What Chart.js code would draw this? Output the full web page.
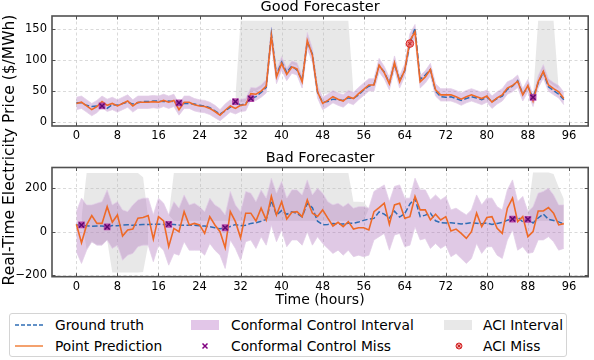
<!DOCTYPE html>
<html>
<head>
<meta charset="utf-8">
<script src="https://cdn.jsdelivr.net/npm/chart.js@4.4.1/dist/chart.umd.min.js"></script>
<style>
  html, body { margin: 0; padding: 0; background: #fff; }
  #fig { position: relative; width: 594px; height: 360px; overflow: hidden; font-family: "DejaVu Sans", sans-serif; color: #000; }
  #fig canvas { position: absolute; left: 0; }
  #ylabel { position: absolute; left: 9px; top: 150px; transform: translate(-50%, -50%) rotate(-90deg); font-size: 15.5px; white-space: nowrap; }
  #legend { position: absolute; left: 9px; top: 313px; width: 558px; height: 44px; border: 1px solid #d4d4d4; border-radius: 3px; box-sizing: border-box; }
  #legend .lbl { position: absolute; font-size: 13.8px; line-height: 16px; white-space: nowrap; transform: translateY(-50%); }
  #legend svg { position: absolute; transform: translateY(-50%); }
</style>
</head>
<body>
<div id="fig">
  <canvas id="good" width="594" height="142" style="top:0px"></canvas>
  <canvas id="bad" width="594" height="170" style="top:142px"></canvas>
  <div id="ylabel">Real-Time Electricity Price ($/MWh)</div>
  <div id="legend">
    <svg style="left:5px;top:11px" width="28" height="10"><line x1="0" y1="5" x2="28" y2="5" stroke="#2f6db5" stroke-width="1.5" stroke-dasharray="4,2"/></svg>
    <div class="lbl" style="left:45px;top:11px">Ground truth</div>
    <svg style="left:5px;top:32px" width="28" height="10"><line x1="0" y1="5" x2="28" y2="5" stroke="#f28a4a" stroke-width="1.6"/></svg>
    <div class="lbl" style="left:45px;top:32px">Point Prediction</div>
    <svg style="left:181px;top:11px" width="28" height="10"><rect x="0" y="0" width="28" height="10" fill="#e2c6e8"/></svg>
    <div class="lbl" style="left:221px;top:11px">Conformal Control Interval</div>
    <svg style="left:181px;top:32px" width="28" height="10"><path d="M11.5 2.5 L16.5 7.5 M16.5 2.5 L11.5 7.5" stroke="#800080" stroke-width="1.5"/></svg>
    <div class="lbl" style="left:221px;top:32px">Conformal Control Miss</div>
    <svg style="left:434px;top:11px" width="28" height="10"><rect x="0" y="0" width="28" height="10" fill="#e8e8e8"/></svg>
    <div class="lbl" style="left:473px;top:11px">ACI Interval</div>
    <svg style="left:434px;top:32px" width="28" height="10"><circle cx="15" cy="5" r="3" fill="#f3a0a0" stroke="#d62728" stroke-width="1"/><path d="M13.3 3.3 L16.7 6.7 M16.7 3.3 L13.3 6.7" stroke="#c01818" stroke-width="0.9"/></svg>
    <div class="lbl" style="left:473px;top:32px">ACI Miss</div>
  </div>
</div>
<script>
// hours 0..95 on the x axis
const hours = Array.from({ length: 96 }, (_, i) => i);
const xTicks = [0, 8, 16, 24, 32, 40, 48, 56, 64, 72, 80, 88, 96];
const goodYTicks = [0, 50, 100, 150];
const badYTicks = [-200, 0, 200];

// ground truth price, shared by both panels
const groundTruth = [
  31, 31, 27, 25, 26, 26, 22, 28, 27, 30, 32, 29,
  31, 33, 33, 34, 34, 33, 34, 33, 31, 30, 30, 29,
  27, 26, 23, 18, 13, 18, 24, 33, 27, 30, 38, 41,
  48, 56, 143, 76, 97, 80, 91, 84, 68, 130, 110, 48,
  32, 33, 37, 36, 35, 39, 38, 44, 52, 58, 61, 91,
  81, 63, 94, 67, 83, 127, 152, 69, 76, 85, 50, 41,
  40, 41, 38, 35, 38, 41, 39, 36, 40, 33, 38, 42,
  53, 58, 67, 45, 57, 40, 63, 81, 57, 51, 45, 36
];

// good forecaster
const goodPred = [
  30, 32, 26, 20, 25, 33, 27, 30, 26, 30, 34, 26,
  32, 32, 32, 33, 32, 35, 32, 35, 20, 32, 32, 28,
  26, 25, 22, 17, 11, 19, 26, 22, 27, 28, 46, 45,
  50, 58, 140, 73, 95, 77, 89, 86, 65, 132, 108, 49,
  30, 35, 41, 37, 34, 41, 38, 46, 53, 60, 60, 92,
  80, 62, 96, 65, 84, 132, 146, 65, 73, 85, 52, 44,
  44, 44, 41, 37, 41, 44, 41, 38, 42, 32, 39, 44,
  55, 59, 66, 44, 59, 34, 65, 82, 60, 54, 49, 38
];
const goodBandHalf = [
  10, 10, 10, 10, 10, 9, 10, 10, 10, 10, 10, 10,
  10, 10, 10, 10, 10, 10, 10, 10, 9, 10, 10, 10,
  10, 10, 10, 10, 9, 10, 10, 9, 10, 10, 10, 10,
  10, 11, 14, 11, 11, 10, 10, 10, 10, 13, 11, 10,
  10, 10, 10, 10, 10, 10, 10, 10, 10, 10, 10, 11,
  10, 10, 11, 10, 10, 11, 12, 10, 10, 10, 10, 10,
  10, 10, 10, 10, 10, 10, 10, 10, 10, 10, 10, 10,
  10, 10, 10, 10, 10, 9, 10, 11, 10, 10, 10, 10
];
const goodAciLow = [
  null, null, null, null, null, null, null, null, null, null, null, null,
  null, null, null, null, null, null, null, null, null, null, null, null,
  null, null, null, null, null, null, null, 40, 32, 33, 50, 50,
  55, 63, 145, 78, 100, 82, 94, 91, 70, 137, 113, 54,
  45, 46, 48, 47, 46, 48, 48, null, null, null, null, null,
  null, null, null, null, null, null, null, null, null, null, null, null,
  null, null, null, null, null, null, null, null, null, null, null, null,
  null, null, null, null, null, 42, 70, 87, 65, 59, 54, null
];
const goodAciHigh = [
  null, null, null, null, null, null, null, null, null, null, null, null,
  null, null, null, null, null, null, null, null, null, null, null, null,
  null, null, null, null, null, null, null, 40, 164, 164, 164, 164,
  164, 164, 164, 164, 164, 164, 164, 164, 164, 164, 164, 164,
  164, 164, 164, 164, 164, 164, 48, null, null, null, null, null,
  null, null, null, null, null, null, null, null, null, null, null, null,
  null, null, null, null, null, null, null, null, null, null, null, null,
  null, null, null, null, null, 42, 164, 164, 164, 164, 54, null
];
const goodCcMiss = [5, 20, 31, 34, 89];
const goodAciMiss = [65];

// bad forecaster
const badPred = [
  34, -51, 31, 74, 38, 38, 115, 43, 77, -20, 8, 12,
  62, 65, 74, -34, 69, 49, -69, 15, 0, 92, 31, 38,
  31, -8, 69, 31, 0, -74, 92, 46, -28, 85, 85, 49,
  108, 54, 162, 77, 138, 58, 89, 92, 69, 146, 85, 70,
  100, 62, 26, 43, 23, 46, 12, 18, 18, 8, 92, 111,
  131, 34, 123, 131, 62, 69, 162, 100, 100, 54, 80, 54,
  69, 3, 12, -8, -31, 0, 85, 23, 65, 69, 15, -8,
  108, 154, 46, 69, -23, 0, 95, 95, 111, 85, 31, 37
];
const badBandLow = [
  -92, -146, -85, -46, -62, -62, -38, -77, -62, -131, -108, -100,
  -69, -62, -62, -138, -62, -85, -154, -100, -108, -46, -85, -85,
  -85, -108, -54, -85, -108, -169, -38, -77, -131, -46, -38, -77,
  -23, -62, 31, -46, 8, -69, -38, -38, -62, 0, -62, -23,
  -54, -77, -100, -85, -108, -85, -115, -108, -115, -108, -38, -23,
  -8, -85, -15, -8, -69, -62, 23, -38, -31, -77, -54, -77,
  -62, -115, -100, -123, -146, -123, -54, -100, -69, -69, -108, -123,
  -38, 8, -85, -69, -100, -95, -38, -38, -23, -46, -85, -77
];
const badBandHigh = [
  92, 154, 123, 123, 131, 138, 192, 123, 138, 100, 92, 123,
  146, 154, 154, 77, 154, 131, 77, 138, 108, 169, 123, 131,
  115, 92, 154, 123, 108, 77, 185, 123, 92, 185, 177, 138,
  192, 154, 246, 177, 231, 154, 192, 192, 169, 238, 169, 200,
  177, 138, 123, 131, 115, 131, 108, 115, 115, 108, 185, 200,
  215, 138, 208, 215, 154, 154, 246, 192, 192, 146, 169, 146,
  162, 100, 108, 92, 77, 100, 169, 123, 154, 154, 115, 100,
  192, 238, 138, 162, 92, 115, 177, 185, 200, 169, 123, 123
];
const badAciLow = [
  null, 60, -80, -50, -60, -60, -40, -188, -188, -188, -188, -188,
  -188, -185, -60, null, null, null, 77, 50, 50, 50, 50, 50,
  50, 50, 50, 50, 50, 50, 50, 50, 50, 50, 50, 50,
  50, 50, 50, 50, 50, 50, 50, 50, 50, 50, 50, 50,
  50, 50, 50, 50, 50, 50, 50, 50, 50, 105, null, null,
  null, null, null, null, null, null, null, null, null, null, null, null,
  null, null, null, null, null, null, null, null, null, null, null, null,
  null, null, null, null, 90, 50, 50, 50, 50, 50, 50, 50
];
const badAciHigh = [
  null, 60, 270, 270, 270, 270, 270, 270, 270, 270, 270, 270,
  270, 250, 60, null, null, null, 77, 270, 270, 270, 270, 270,
  270, 270, 270, 270, 270, 270, 270, 270, 270, 270, 270, 270,
  270, 270, 270, 270, 270, 270, 270, 270, 270, 270, 270, 270,
  270, 270, 270, 270, 270, 270, 138, 138, 135, 105, null, null,
  null, null, null, null, null, null, null, null, null, null, null, null,
  null, null, null, null, null, null, null, null, null, null, null, null,
  null, null, null, null, 90, 272, 272, 272, 272, 265, 204, 150
];
const badCcMiss = [1, 6, 18, 29, 85, 88];
const badAciMiss = [];

const BLUE = '#2f6db5';
const ORANGE = '#ee6a28';
const BAND = 'rgba(168,104,184,0.36)';
const BAND_EDGE = 'rgba(226,205,232,0.9)';
const GRAY = 'rgba(185,185,185,0.33)';
const NONE = 'rgba(0,0,0,0)';
const TICK_FONT = { family: 'DejaVu Sans', size: 11.5 };

Chart.defaults.font.family = 'DejaVu Sans';

const toPts = arr => hours.map((h, i) => ({ x: h, y: arr[i] }));
const missPts = list => list.map(h => ({ x: h, y: groundTruth[h] }));
const minus = v => String(v).replace('-', '\u2212');

// matplotlib-like frame: dashed grid, inward ticks on all sides
const mplAxes = {
  id: 'mplAxes',
  beforeDatasetsDraw(chart) {
    const { ctx, chartArea: a, scales: { x, y } } = chart;
    ctx.save();
    ctx.strokeStyle = '#d0d0d0';
    ctx.lineWidth = 0.8;
    ctx.setLineDash([3, 2.5]);
    ctx.beginPath();
    x.ticks.forEach(t => {
      const p = Math.round(x.getPixelForValue(t.value)) + 0.5;
      ctx.moveTo(p, a.top); ctx.lineTo(p, a.bottom);
    });
    y.ticks.forEach(t => {
      const p = Math.round(y.getPixelForValue(t.value)) + 0.5;
      ctx.moveTo(a.left, p); ctx.lineTo(a.right, p);
    });
    ctx.stroke();
    ctx.restore();
  },
  afterDatasetsDraw(chart) {
    const { ctx, chartArea: a, scales: { x, y } } = chart;
    ctx.save();
    ctx.strokeStyle = '#505050';
    ctx.lineWidth = 1;
    ctx.beginPath();
    x.ticks.forEach(t => {
      const p = Math.round(x.getPixelForValue(t.value)) + 0.5;
      ctx.moveTo(p, a.bottom); ctx.lineTo(p, a.bottom - 3.5);
      ctx.moveTo(p, a.top); ctx.lineTo(p, a.top + 3.5);
    });
    y.ticks.forEach(t => {
      const p = Math.round(y.getPixelForValue(t.value)) + 0.5;
      ctx.moveTo(a.left, p); ctx.lineTo(a.left + 3.5, p);
      ctx.moveTo(a.right, p); ctx.lineTo(a.right - 3.5, p);
    });
    ctx.stroke();
    ctx.lineWidth = 1.6;
    ctx.strokeRect(a.left, a.top, a.right - a.left, a.bottom - a.top);
    ctx.restore();
  }
};

function buildPanel(id, p) {
  const datasets = [
    { data: toPts(p.aciLow), borderColor: NONE, pointRadius: 0, fill: false, order: 6 },
    { data: toPts(p.aciHigh), borderColor: NONE, pointRadius: 0, fill: '-1', backgroundColor: GRAY, order: 6 },
    { data: toPts(p.bandLow), borderColor: BAND_EDGE, borderWidth: 0.8, pointRadius: 0, fill: false, order: 5 },
    { data: toPts(p.bandHigh), borderColor: BAND_EDGE, borderWidth: 0.8, pointRadius: 0, fill: '-1', backgroundColor: BAND, order: 5 },
    { data: toPts(groundTruth), borderColor: BLUE, borderWidth: 1.5, borderDash: [5.5, 2.4], pointRadius: 0, order: 4 },
    { data: toPts(p.pred), borderColor: ORANGE, borderWidth: 1.6, pointRadius: 0, order: 3 },
    { data: missPts(p.ccMiss), showLine: false, pointStyle: 'rect', pointRadius: 4.8, backgroundColor: 'rgba(176,52,160,0.85)', borderColor: NONE, order: 2 },
    { data: missPts(p.ccMiss), showLine: false, pointStyle: 'crossRot', pointRadius: 3.6, borderColor: '#5e0a70', borderWidth: 1.4, order: 1 },
    { data: missPts(p.aciMiss), showLine: false, pointStyle: 'circle', pointRadius: 3.8, backgroundColor: 'rgba(240,110,110,0.75)', borderColor: '#d62728', borderWidth: 1, order: 2 },
    { data: missPts(p.aciMiss), showLine: false, pointStyle: 'crossRot', pointRadius: 2.6, borderColor: '#c01818', borderWidth: 1, order: 1 }
  ];

  return new Chart(document.getElementById(id), {
    type: 'line',
    data: { datasets },
    options: {
      responsive: false,
      animation: false,
      devicePixelRatio: 1,
      elements: { line: { tension: 0 } },
      layout: { padding: { left: 0, right: 1.3, top: 0, bottom: 0 } },
      plugins: {
        legend: { display: false },
        tooltip: { enabled: false },
        title: {
          display: true,
          text: p.title,
          fullSize: false,
          color: '#000',
          font: { size: 14.5, weight: 'normal', lineHeight: 1 },
          padding: p.titlePad
        }
      },
      scales: {
        x: {
          type: 'linear',
          min: -4.75,
          max: 99.75,
          afterBuildTicks: s => { s.ticks = xTicks.map(v => ({ value: v })); },
          afterFit: s => { s.height = p.xHeight; },
          grid: { display: false, drawTicks: false },
          border: { display: false },
          ticks: { font: TICK_FONT, color: '#000', padding: 3, maxRotation: 0, autoSkip: false, callback: minus },
          title: p.xTitle
        },
        y: {
          min: p.yMin,
          max: p.yMax,
          afterBuildTicks: s => { s.ticks = p.yTicks.map(v => ({ value: v })); },
          afterFit: s => { s.width = 52; },
          grid: { display: false, drawTicks: false },
          border: { display: false },
          ticks: { font: TICK_FONT, color: '#000', padding: 5, callback: minus }
        }
      }
    },
    plugins: [mplAxes]
  });
}

buildPanel('good', {
  title: 'Good Forecaster',
  titlePad: { top: 0, bottom: 1.5 },
  pred: goodPred,
  bandLow: goodPred.map((v, i) => v - goodBandHalf[i]),
  bandHigh: goodPred.map((v, i) => v + goodBandHalf[i]),
  aciLow: goodAciLow,
  aciHigh: goodAciHigh,
  ccMiss: goodCcMiss,
  aciMiss: goodAciMiss,
  yMin: -6.5,
  yMax: 171.7,
  yTicks: goodYTicks,
  xHeight: 16,
  xTitle: { display: false }
});

buildPanel('bad', {
  title: 'Bad Forecaster',
  titlePad: { top: 9, bottom: 2 },
  pred: badPred,
  bandLow: badBandLow,
  bandHigh: badBandHigh,
  aciLow: badAciLow,
  aciHigh: badAciHigh,
  ccMiss: badCcMiss,
  aciMiss: badAciMiss,
  yMin: -207,
  yMax: 295,
  yTicks: badYTicks,
  xHeight: 35.3,
  xTitle: { display: true, text: 'Time (hours)', color: '#000', font: { size: 14 }, padding: { top: 0, bottom: 3.3 } }
});
</script>
</body>
</html>
